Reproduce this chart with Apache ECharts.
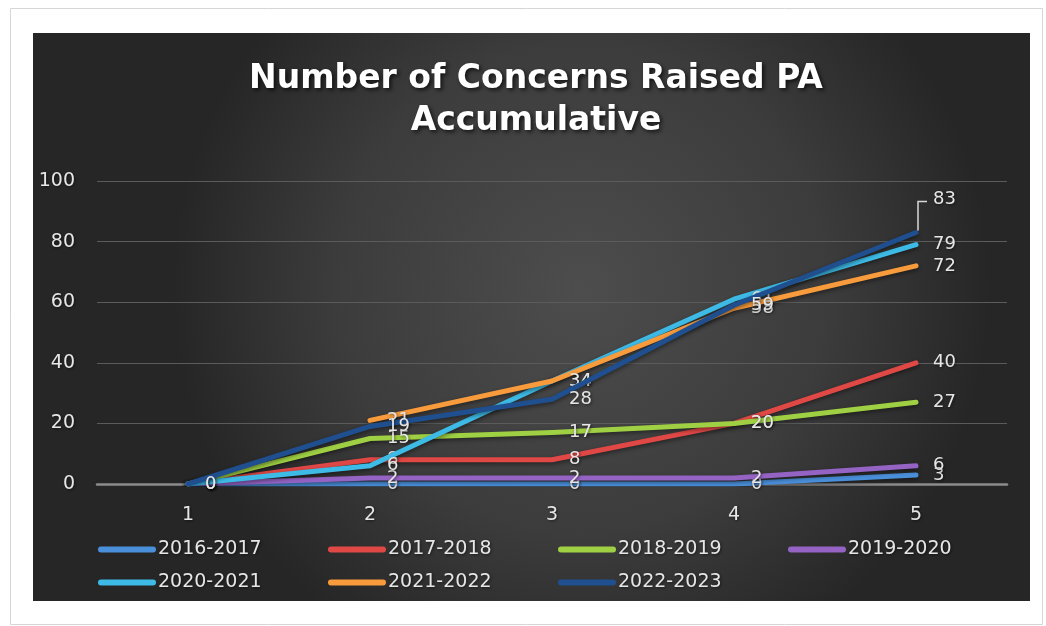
<!DOCTYPE html>
<html>
<head>
<meta charset="utf-8">
<script src="https://cdn.jsdelivr.net/npm/echarts@6/dist/echarts.min.js"></script>
<style>
  html, body { margin: 0; padding: 0; background: #ffffff; }
  #chart { width: 1046px; height: 626px; }
</style>
</head>
<body>
<div id="chart"></div>
<script>
// Period (1..5) on the x axis
const categories = ['1', '2', '3', '4', '5'];
const seriesNames = ['2016-2017', '2017-2018', '2018-2019', '2019-2020', '2020-2021', '2021-2022', '2022-2023'];

// Accumulated concerns per year
const v2016_2017 = [0, 0, 0, 0, 3];
const v2017_2018 = [0, 8, 8, 20, 40];
const v2018_2019 = [0, 15, 17, 20, 27];
const v2019_2020 = [0, 2, 2, 2, 6];
const v2020_2021 = [0, 6, 34, 61, 79];
const v2021_2022 = [null, 21, 34, 58, 72];
const v2022_2023 = [0, 19, 28, 59, 83];

const yTicks = { min: 0, max: 100, interval: 20 };

const seriesValues = [v2016_2017, v2017_2018, v2018_2019, v2019_2020, v2020_2021, v2021_2022, v2022_2023];
const seriesColors = ['#4a8fda', '#e04846', '#9fd043', '#9563c4', '#3dbbe6', '#f79b3c', '#1f4f8e'];

const FONT = 'DejaVu Sans';
const labelColor = '#e6e6e6';
const textShadow = { textShadowColor: 'rgba(0,0,0,0.55)', textShadowBlur: 3, textShadowOffsetX: 1, textShadowOffsetY: 1 };

const chart = echarts.init(document.getElementById('chart'), null, { renderer: 'canvas' });

const series = seriesNames.map((name, i) => ({
  name: name,
  type: 'line',
  data: seriesValues[i].map((v, j) => {
    // the last value of the newest year gets a raised label with a leader
    if (i === 6 && j === 4) {
      return { value: v, label: { offset: [0, -33] } };
    }
    return v;
  }),
  symbol: 'circle',
  symbolSize: 2,
  showSymbol: true,
  connectNulls: false,
  smooth: false,
  lineStyle: {
    width: 5,
    color: seriesColors[i],
    cap: 'round',
    join: 'round',
    shadowColor: 'rgba(0,0,0,0.45)',
    shadowBlur: 4,
    shadowOffsetY: 2
  },
  itemStyle: { color: seriesColors[i] },
  label: Object.assign({
    show: true,
    position: 'right',
    distance: 16,
    color: labelColor,
    fontFamily: FONT,
    fontSize: 18
  }, textShadow),
  emphasis: { disabled: true },
  z: 2 + i
}));

const legendLeft = [93, 323, 553, 783, 93, 323, 553];
const legendTop = [535, 535, 535, 535, 568, 568, 568];

// Legend swatches are flat rounded bars, one legend block per year
const legends = seriesNames.map((name, i) => ({
  data: [name],
  left: legendLeft[i],
  top: legendTop[i],
  icon: 'path://M3,0 L55,0 A3,3 0 0 1 55,6 L3,6 A3,3 0 0 1 3,0 Z',
  symbolKeepAspect: false,
  itemWidth: 58,
  itemHeight: 6,
  itemGap: 0,
  selectedMode: false,
  itemStyle: { color: seriesColors[i], borderWidth: 0 },
  textStyle: Object.assign({ color: labelColor, fontFamily: FONT, fontSize: 19, padding: [0, 0, 0, -3] }, textShadow)
}));

chart.setOption({
  backgroundColor: '#ffffff',
  animation: false,
  graphic: [
    {
      type: 'rect',
      z: -10,
      silent: true,
      shape: { x: 10.5, y: 8.5, width: 1032, height: 616 },
      style: { fill: '#ffffff', stroke: '#d6d6d6', lineWidth: 1 }
    },
    {
      type: 'rect',
      z: -9,
      silent: true,
      shape: { x: 33, y: 33, width: 997, height: 568 },
      style: {
        fill: new echarts.graphic.RadialGradient(0.55, 0.45, 0.72, [
          { offset: 0, color: '#4d4d4d' },
          { offset: 0.6, color: '#3c3c3c' },
          { offset: 1, color: '#262626' }
        ])
      }
    }
  ],
  title: {
    text: 'Number of Concerns Raised PA\nAccumulative',
    left: 531,
    top: 53,
    textAlign: 'center',
    textStyle: {
      color: '#ffffff',
      fontFamily: FONT,
      fontWeight: 'bold',
      fontSize: 33,
      lineHeight: 42,
      textShadowColor: 'rgba(0,0,0,0.7)',
      textShadowBlur: 4,
      textShadowOffsetX: 2,
      textShadowOffsetY: 2
    }
  },
  legend: legends,
  grid: { left: 97, right: 39, top: 181, bottom: 142, containLabel: false },
  xAxis: {
    type: 'category',
    data: categories,
    boundaryGap: true,
    axisLine: { show: true, lineStyle: { color: '#8c8c8c', width: 2.5 } },
    axisTick: { show: false },
    axisLabel: Object.assign({ color: labelColor, fontFamily: FONT, fontSize: 19, margin: 22 }, textShadow),
    splitLine: { show: false }
  },
  yAxis: {
    type: 'value',
    min: yTicks.min,
    max: yTicks.max,
    interval: yTicks.interval,
    axisLine: { show: false },
    axisTick: { show: false },
    axisLabel: Object.assign({ color: labelColor, fontFamily: FONT, fontSize: 19, margin: 22 }, textShadow),
    splitLine: { show: true, lineStyle: { color: '#5b5b5b', width: 1 } }
  },
  series: series
});

// Leader from the final 2022-2023 point up to its raised label
const anchor = chart.convertToPixel({ seriesIndex: 6 }, [4, v2022_2023[4]]);
chart.setOption({
  graphic: [
    {}, {},
    {
      type: 'polyline',
      z: 20,
      silent: true,
      shape: { points: [[anchor[0] + 2, anchor[1] - 2], [anchor[0] + 2, anchor[1] - 31], [anchor[0] + 11, anchor[1] - 31]] },
      style: { stroke: '#d9d9d9', lineWidth: 1.5, fill: null }
    }
  ]
});
</script>
</body>
</html>
